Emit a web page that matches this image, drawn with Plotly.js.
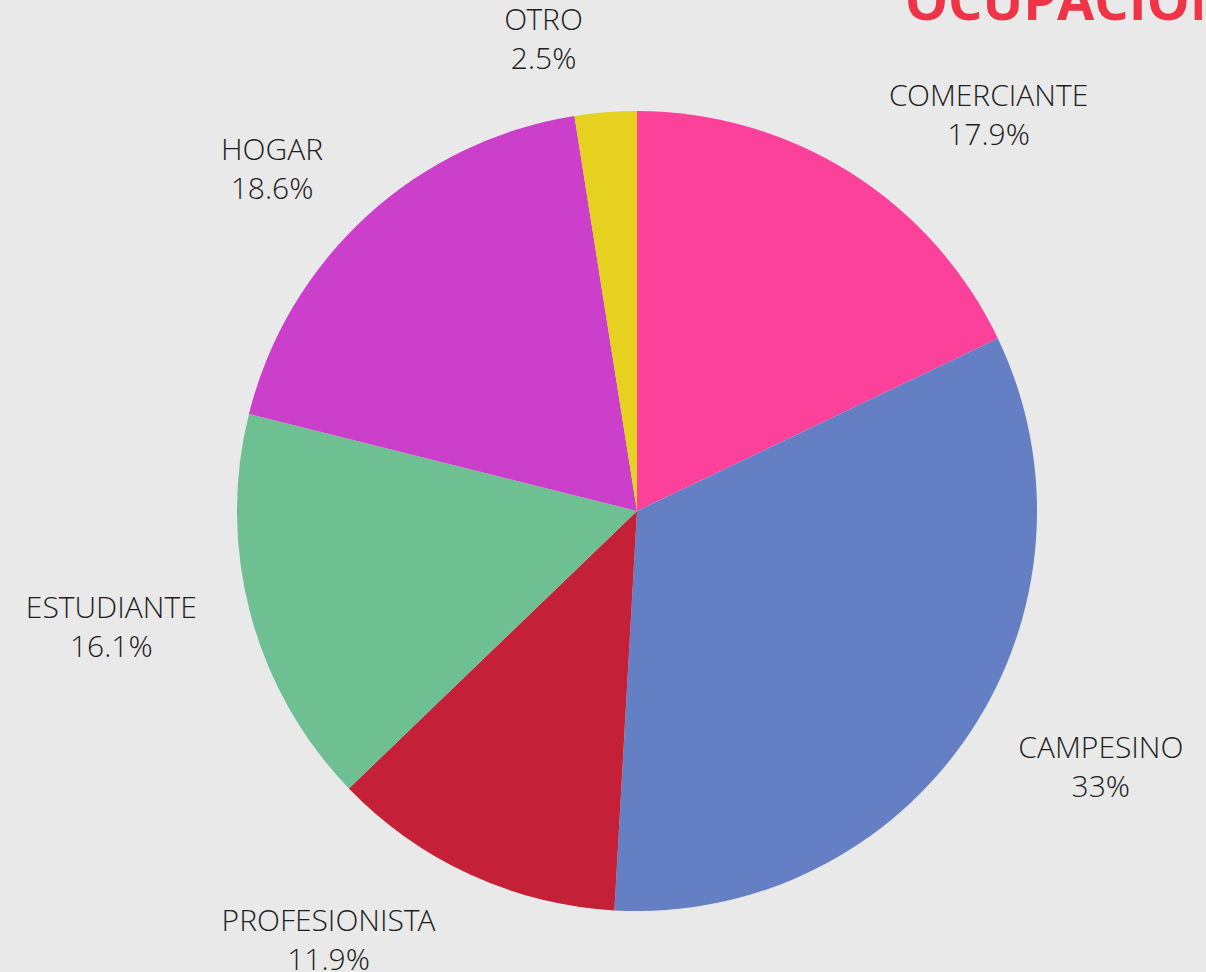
<!DOCTYPE html>
<html>
<head>
<meta charset="utf-8">
<script src="https://cdn.plot.ly/plotly-3.0.1.min.js"></script>
<style>
  html, body { margin: 0; padding: 0; background: #e8e8e8; }
  #chart { width: 1206px; height: 972px; }
</style>
</head>
<body>
<div id="chart"></div>
<script>
const categories = ["COMERCIANTE", "CAMPESINO", "PROFESIONISTA", "ESTUDIANTE", "HOGAR", "OTRO"];
const values = [17.9, 33, 11.9, 16.1, 18.6, 2.5];
const colors = ["#fb4199", "#647fc3", "#c42037", "#6ec093", "#cb3fca", "#e6d020"];
const titleText = "OCUPACIÓN";

// visible pie (no text)
const piePie = {
  type: "pie",
  labels: categories,
  values: values,
  sort: false,
  direction: "clockwise",
  rotation: 0,
  domain: { x: [0.0402, 0.9598], y: [0.0402, 0.9598] },
  marker: { colors: colors, line: { width: 0 } },
  textinfo: "none",
  hoverinfo: "label+percent",
  showlegend: false,
  automargin: false
};

// transparent, slightly larger ring that only carries the outside labels
const labelPie = {
  type: "pie",
  labels: categories,
  values: values,
  sort: false,
  direction: "clockwise",
  rotation: 0,
  domain: { x: [0, 1], y: [0, 1] },
  marker: { colors: categories.map(() => "rgba(0,0,0,0)"), line: { width: 0 } },
  textposition: "outside",
  texttemplate: "%{label}<br>%{percent}",
  outsidetextfont: { family: "Open Sans Light, Open Sans", size: 30, color: "#1e1e1e", weight: 300 },
  hoverinfo: "skip",
  showlegend: false,
  automargin: false
};

const layout = {
  width: 1206,
  height: 972,
  margin: { l: 202, r: 134, t: 76, b: 26 },
  paper_bgcolor: "#e9e9e9",
  plot_bgcolor: "#e9e9e9",
  showlegend: false,
  annotations: [{
    text: "<b>" + titleText + "</b>",
    xref: "paper", yref: "paper",
    x: (903 - 202) / 870, y: 1 + (76 - 38) / 870,
    xanchor: "left", yanchor: "bottom",
    showarrow: false,
    font: { family: "Open Sans", size: 54, color: "#f03447", weight: 700 }
  }]
};

Plotly.newPlot("chart", [labelPie, piePie], layout, { displayModeBar: false, staticPlot: true });
</script>
</body>
</html>
